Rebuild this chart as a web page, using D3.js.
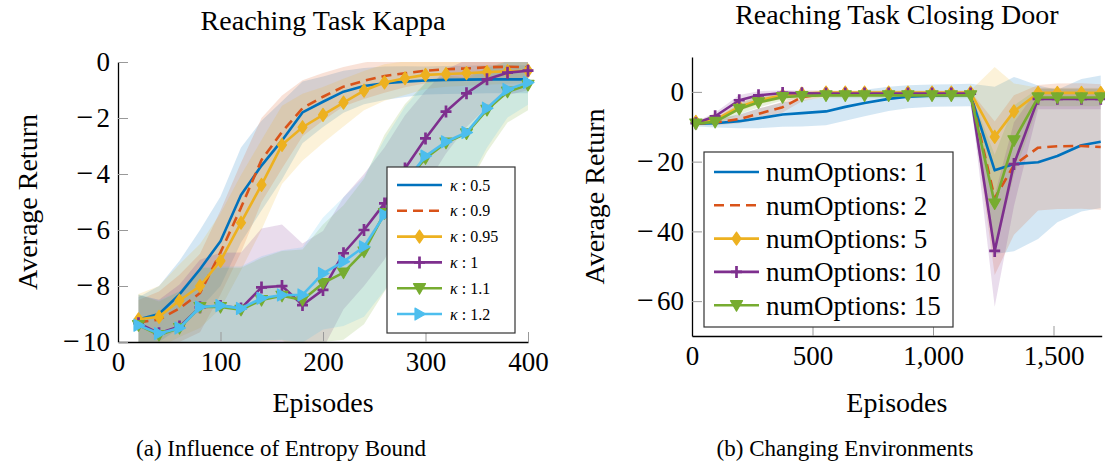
<!DOCTYPE html>
<html>
<head>
<meta charset="utf-8">
<script src="https://cdn.jsdelivr.net/npm/d3@7"></script>
<style>
body { margin: 0; background: #fff; }
text { font-family: "Liberation Serif", "Times New Roman", serif; fill: #000; }
</style>
</head>
<body>
<svg id="chart" width="1105" height="466"></svg>
<script>
// ---- left panel: Reaching Task Kappa ----
const episodesK = [20, 40, 60, 80, 100, 120, 140, 160, 180, 200, 220, 240, 260, 280, 300, 320, 340, 360, 380, 400];
const kappa05  = [-9.2, -9.0, -8.3, -7.4, -6.4, -4.75, -3.7, -2.8, -1.8, -1.42, -1.06, -0.86, -0.76, -0.7, -0.66, -0.64, -0.63, -0.62, -0.62, -0.62];
const kappa09  = [-9.3, -9.2, -8.8, -8.25, -6.8, -5.2, -3.5, -2.5, -1.65, -1.24, -0.88, -0.67, -0.5, -0.4, -0.31, -0.26, -0.23, -0.19, -0.17, -0.19];
const kappa095 = [-9.19, -9.1, -8.52, -8.0, -7.1, -5.74, -4.39, -2.96, -2.33, -1.89, -1.45, -1.02, -0.73, -0.58, -0.46, -0.43, -0.4, -0.36, -0.33, -0.31];
const kappa1   = [-9.33, -9.69, -9.45, -8.76, -8.71, -8.8, -8.05, -8.0, -8.68, -8.14, -6.83, -6.0, -5.05, -3.8, -2.73, -1.77, -1.12, -0.62, -0.38, -0.31];
const kappa11  = [-9.4, -9.75, -9.5, -8.75, -8.75, -8.85, -8.5, -8.35, -8.5, -7.9, -7.52, -6.77, -5.4, -4.3, -3.44, -2.88, -2.55, -1.71, -1.06, -0.82];
const kappa12  = [-9.4, -9.7, -9.5, -8.75, -8.7, -8.8, -8.44, -8.32, -8.32, -7.55, -7.13, -6.6, -5.46, -4.3, -3.36, -2.85, -2.52, -1.65, -0.98, -0.73];
// half width of the shaded bands
const sdK05  = [0.8, 1.0, 1.2, 1.4, 1.6, 1.7, 1.6, 1.4, 1.1, 0.9, 0.75, 0.65, 0.6, 0.55, 0.5, 0.5, 0.5, 0.5, 0.5, 0.5];
const sdK09  = [0.8, 1.0, 1.2, 1.4, 1.5, 1.6, 1.5, 1.3, 1.0, 0.85, 0.7, 0.65, 0.6, 0.5, 0.45, 0.4, 0.4, 0.4, 0.4, 0.4];
const sdK095 = [0.9, 1.1, 1.3, 1.5, 1.7, 1.7, 1.6, 1.4, 1.2, 1.0, 0.85, 0.7, 0.65, 0.6, 0.5, 0.45, 0.45, 0.45, 0.45, 0.45];
const sdK1   = [1.0, 1.2, 1.5, 1.7, 1.9, 2.0, 2.1, 2.2, 2.2, 2.1, 2.0, 2.0, 2.0, 1.9, 1.7, 1.5, 1.2, 1.0, 0.8, 0.7];
const sdK11  = [1.1, 1.2, 1.3, 1.4, 1.4, 1.5, 1.5, 1.6, 1.8, 2.1, 2.4, 2.6, 2.8, 2.8, 2.7, 2.4, 2.0, 1.5, 1.1, 0.9];
const sdK12  = [1.1, 1.2, 1.3, 1.4, 1.4, 1.5, 1.5, 1.6, 1.7, 2.0, 2.3, 2.5, 2.7, 2.7, 2.6, 2.3, 1.9, 1.4, 1.0, 0.8];
const kappaLabels = ['0.5', '0.9', '0.95', '1', '1.1', '1.2'];
const xTicksK = [0, 100, 200, 300, 400];
const yTicksK = [0, -2, -4, -6, -8, -10];

// ---- right panel: Reaching Task Closing Door ----
const episodesD = [16, 96, 196, 276, 376, 456, 556, 636, 716, 816, 896, 996, 1076, 1156, 1256, 1336, 1436, 1516, 1616, 1696];
const opt1  = [-9.1, -9.0, -8.4, -7.6, -6.5, -6.1, -5.6, -4.3, -3.2, -2.0, -1.4, -1.1, -1.0, -0.9, -22.5, -20.7, -20.2, -18.4, -15.3, -14.3];
const opt2  = [-9.1, -8.8, -7.8, -6.3, -4.4, -1.5, -0.5, -0.5, -0.5, -0.5, -0.5, -0.5, -0.5, -0.5, -30.5, -21, -16, -15.6, -15.5, -15.8];
const opt5  = [-8.6, -8.0, -4.3, -2.4, -1.0, -0.5, -0.2, -0.2, -0.2, -0.2, -0.2, -0.2, -0.2, -0.2, -12.9, -5.6, -0.3, -0.3, -0.3, -0.3];
const opt10 = [-9.0, -7.0, -2.4, -1.0, -0.3, -0.4, -0.5, -0.5, -0.5, -0.5, -0.5, -0.5, -0.5, -0.5, -45.6, -20.7, -2.0, -2.0, -2.0, -2.0];
const opt15 = [-9.1, -8.6, -4.9, -3.0, -1.5, -1.2, -1.0, -1.0, -1.0, -1.0, -1.0, -1.0, -1.0, -1.0, -32, -13.9, -1.6, -1.6, -1.6, -1.6];
const sdOpt1  = [0.8, 1.2, 2.0, 2.8, 3.5, 3.8, 4.0, 4.0, 3.8, 3.5, 3.3, 3.2, 3.2, 3.2, 24, 25, 22, 19, 19, 19];
const sdOpt2  = [0.5, 0.8, 1.2, 1.5, 1.5, 1.2, 0.8, 0.6, 0.6, 0.6, 0.6, 0.6, 0.6, 0.6, 22, 20, 18, 18, 18, 18];
const sdOpt5  = [0.6, 0.8, 1.2, 1.2, 1.0, 0.8, 0.6, 0.6, 0.6, 0.6, 0.6, 0.6, 0.6, 0.6, 20, 8, 1.5, 1.5, 1.5, 1.5];
const sdOpt10 = [0.5, 1.0, 1.5, 1.2, 0.8, 0.8, 0.8, 0.8, 0.8, 0.8, 0.8, 0.8, 0.8, 0.8, 16, 12, 3, 3, 3, 3];
const sdOpt15 = [0.5, 0.8, 1.5, 1.5, 1.0, 0.8, 0.8, 0.8, 0.8, 0.8, 0.8, 0.8, 0.8, 0.8, 14, 10, 2.5, 2.5, 2.5, 2.5];
const optLabels = ['numOptions: 1', 'numOptions: 2', 'numOptions: 5', 'numOptions: 10', 'numOptions: 15'];
const xTicksD = [0, 500, 1000, 1500];
const yTicksD = [0, -20, -40, -60];

const col = { blue: '#0072bd', red: '#d95319', orange: '#edb120', purple: '#7e2f8e', green: '#77ac30', cyan: '#4dbeee' };

const markerPath = {
    diamond: 'M0,-6.5L4.5,0L0,6.5L-4.5,0Z',
    plus: 'M-5.5,0H5.5M0,-6V6',
    tridown: 'M-6,-4.5L6,-4.5L0,6Z',
    triright: 'M-4.5,-6L6,0L-4.5,6Z'
};

const svg = d3.select('#chart');

function drawMarker(sel, s) {
    sel.attr('d', markerPath[s.marker])
        .attr('fill', s.marker === 'plus' ? 'none' : s.color)
        .attr('stroke', s.color)
        .attr('stroke-width', s.marker === 'plus' ? 2.7 : 1.2)
        .attr('stroke-linejoin', 'round');
}

// tick label: wide math minus in its own tspan
function tickText(sel, fmt) {
    sel.each(function (d) {
        var t = d3.select(this).text('');
        if (d < 0) {
            t.append('tspan').style('font-size', '30px').text('\u2212');
            t.append('tspan').attr('dx', 3).text(fmt(-d));
        } else {
            t.text(fmt(d));
        }
    });
}

function drawPanel(p, idx) {
    var x = d3.scaleLinear().domain(p.xDomain).range(p.xRange),
        y = d3.scaleLinear().domain(p.yDomain).range(p.yRange);

    var g = svg.append('g');

    g.append('clipPath').attr('id', 'clip' + idx)
        .append('rect')
        .attr('x', p.xRange[0]).attr('y', p.yRange[1])
        .attr('width', p.xRange[1] - p.xRange[0])
        .attr('height', p.yRange[0] - p.yRange[1]);

    var area = d3.area()
        .x((d, i) => x(p.xs[i]))
        .y0(d => y(d[0]))
        .y1(d => y(d[1]));

    p.series.forEach(s => {
        g.append('path')
            .datum(s.values.map((v, i) => [v - s.spread[i], v + s.spread[i]]))
            .attr('d', area)
            .attr('fill', s.color)
            .attr('fill-opacity', 0.17)
            .attr('clip-path', `url(#clip${idx})`);
    });

    var line = d3.line().x((d, i) => x(p.xs[i])).y(d => y(d));

    p.series.forEach(s => {
        g.append('path')
            .datum(s.values)
            .attr('d', line)
            .attr('fill', 'none')
            .attr('stroke', s.color)
            .attr('stroke-width', 2.6)
            .attr('stroke-linejoin', 'round')
            .attr('stroke-dasharray', s.dash ? '10,6' : null)
            .attr('clip-path', `url(#clip${idx})`);

        if (s.marker) {
            g.append('g').selectAll('path')
                .data(s.values)
                .join('path')
                .attr('transform', (d, i) => `translate(${x(p.xs[i])},${y(d)})`)
                .call(drawMarker, s);
        }
    });

    // axes
    var xAxis = d3.axisBottom(x).tickValues(p.xTicks).tickSize(-10).tickSizeOuter(0).tickPadding(10);
    var yAxis = d3.axisLeft(y).tickValues(p.yTicks).tickSize(-10).tickSizeOuter(0).tickPadding(8);

    var xg = g.append('g').attr('transform', `translate(0,${p.yRange[0]})`).call(xAxis);
    var yg = g.append('g').attr('transform', `translate(${p.xRange[0]},0)`).call(yAxis);
    xg.selectAll('.tick text').call(tickText, p.xFormat);
    yg.selectAll('.tick text').call(tickText, d => d);

    [xg, yg].forEach(a => {
        a.attr('font-size', null).attr('font-family', null);
        a.selectAll('text').style('font-size', '27px');
        a.select('.domain').attr('stroke', '#000').attr('stroke-width', 1.3);
        a.selectAll('.tick line').attr('stroke', '#999').attr('stroke-width', 1);
    });

    // titles and labels
    var cx = (p.xRange[0] + p.xRange[1]) / 2,
        cy = (p.yRange[0] + p.yRange[1]) / 2;

    g.append('text').attr('x', cx).attr('y', p.titleY).attr('text-anchor', 'middle')
        .style('font-size', '28px').text(p.title);
    g.append('text').attr('x', cx).attr('y', 412).attr('text-anchor', 'middle')
        .style('font-size', '28px').text('Episodes');
    g.append('text').attr('transform', `translate(${p.yLabelX},${cy}) rotate(-90)`)
        .attr('text-anchor', 'middle').style('font-size', '28px').text('Average Return');
    g.append('text').attr('x', p.captionX).attr('y', 456).attr('text-anchor', 'middle')
        .style('font-size', '23px').text(p.caption);

    // legend
    var L = p.legend;
    var lg = g.append('g');
    lg.append('rect').attr('x', L.x).attr('y', L.y).attr('width', L.w).attr('height', L.h)
        .attr('fill', '#fff').attr('stroke', '#333').attr('stroke-width', 1.2);
    p.series.forEach((s, i) => {
        var ry = L.row0 + i * L.step;
        lg.append('line').attr('x1', L.x0).attr('x2', L.x1).attr('y1', ry).attr('y2', ry)
            .attr('stroke', s.color).attr('stroke-width', 2.6)
            .attr('stroke-dasharray', s.dash ? '10,6' : null);
        if (s.marker) {
            lg.append('path').attr('transform', `translate(${(L.x0 + L.x1) / 2},${ry})`).call(drawMarker, s);
        }
        var t = lg.append('text').attr('x', L.tx).attr('y', ry).attr('dy', '0.35em').style('font-size', L.font + 'px');
        if (L.kappa) {
            t.append('tspan').style('font-style', 'italic').text('\u03ba');
            t.append('tspan').text(' : ' + s.label);
        } else {
            t.text(s.label);
        }
    });
}

drawPanel({
    xs: episodesK,
    xDomain: [0, 400], xRange: [118, 528],
    yDomain: [-10, 0], yRange: [342, 62],
    xTicks: xTicksK, yTicks: yTicksK, xFormat: d => d,
    title: 'Reaching Task Kappa', titleY: 30, yLabelX: 37,
    caption: '(a) Influence of Entropy Bound', captionX: 281,
    series: [
        { values: kappa05, spread: sdK05, color: col.blue, label: kappaLabels[0] },
        { values: kappa09, spread: sdK09, color: col.red, dash: true, label: kappaLabels[1] },
        { values: kappa095, spread: sdK095, color: col.orange, marker: 'diamond', label: kappaLabels[2] },
        { values: kappa1, spread: sdK1, color: col.purple, marker: 'plus', label: kappaLabels[3] },
        { values: kappa11, spread: sdK11, color: col.green, marker: 'tridown', label: kappaLabels[4] },
        { values: kappa12, spread: sdK12, color: col.cyan, marker: 'triright', label: kappaLabels[5] }
    ],
    legend: { x: 387, y: 167, w: 128, h: 166, x0: 397, x1: 442, tx: 450, row0: 185, step: 25.8, font: 16, kappa: true }
}, 0);

drawPanel({
    xs: episodesD,
    xDomain: [0, 1700], xRange: [692, 1101.7],
    yDomain: [-70, 10], yRange: [336, 57],
    xTicks: xTicksD, yTicks: yTicksD, xFormat: d3.format(','),
    title: 'Reaching Task Closing Door', titleY: 24, yLabelX: 604,
    caption: '(b) Changing Environments', captionX: 845,
    series: [
        { values: opt1, spread: sdOpt1, color: col.blue, label: optLabels[0] },
        { values: opt2, spread: sdOpt2, color: col.red, dash: true, label: optLabels[1] },
        { values: opt5, spread: sdOpt5, color: col.orange, marker: 'diamond', label: optLabels[2] },
        { values: opt10, spread: sdOpt10, color: col.purple, marker: 'plus', label: optLabels[3] },
        { values: opt15, spread: sdOpt15, color: col.green, marker: 'tridown', label: optLabels[4] }
    ],
    legend: { x: 704, y: 152, w: 249, h: 175, x0: 714, x1: 759, tx: 766, row0: 172, step: 33.3, font: 27 }
}, 1);
</script>
</body>
</html>
